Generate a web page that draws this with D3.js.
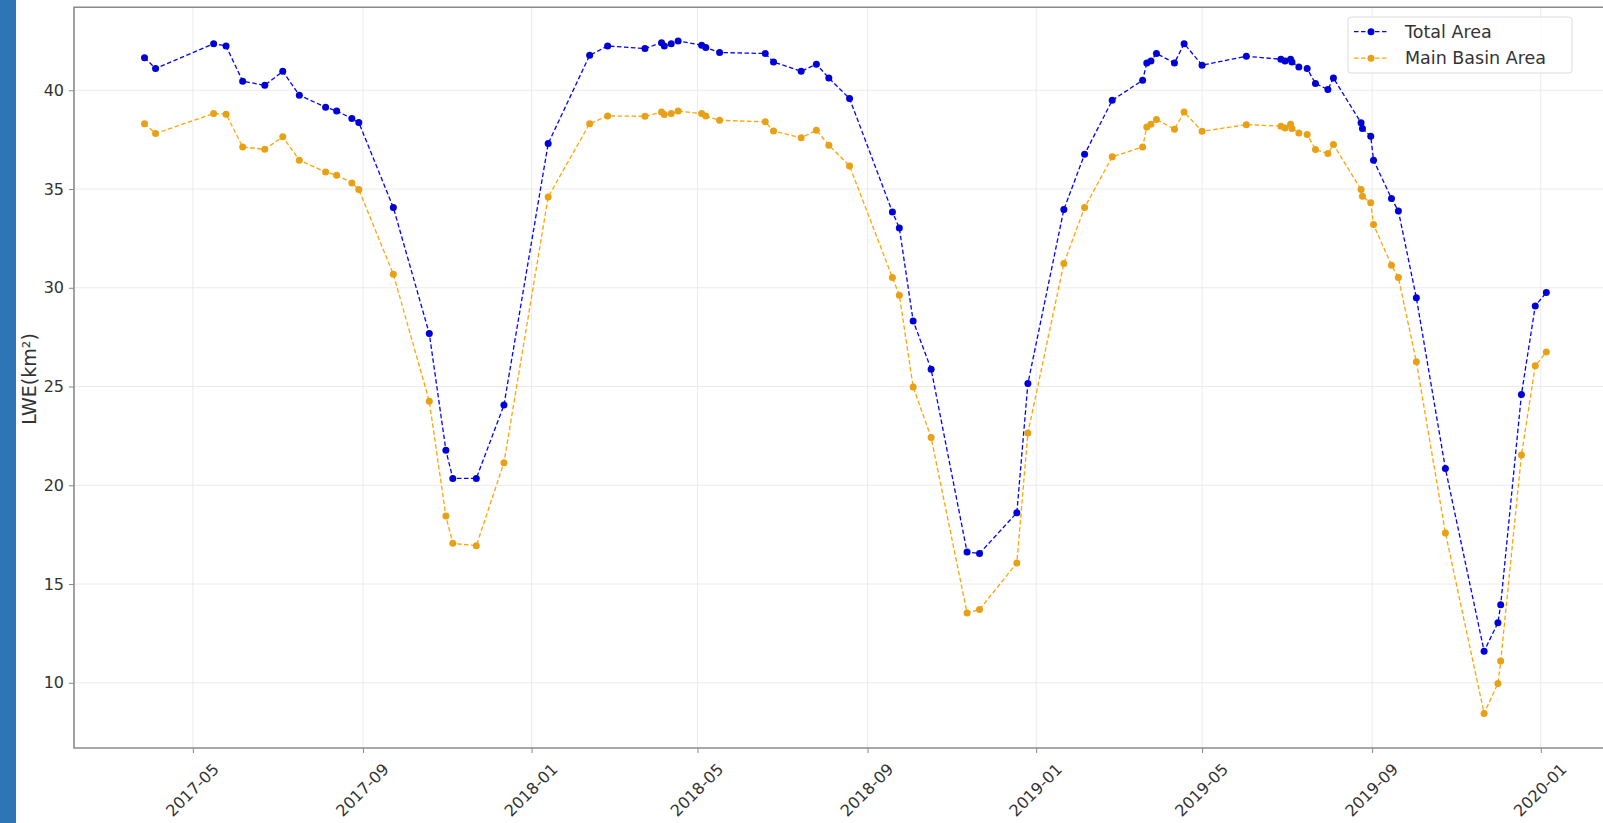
<!DOCTYPE html>
<html>
<head>
<meta charset="utf-8">
<script src="https://cdn.jsdelivr.net/npm/d3@7"></script>
<style>
  body { margin: 0; background: #fff; }
  text { font-family: "DejaVu Sans", sans-serif; fill: #333; }
</style>
</head>
<body>
<div id="root"></div>
<script>
// observation dates
var dates = [
  "2017-03-27", "2017-04-04", "2017-05-16", "2017-05-25", "2017-06-06", "2017-06-22", "2017-07-05",
  "2017-07-17", "2017-08-05", "2017-08-13", "2017-08-24", "2017-08-29", "2017-09-23", "2017-10-19",
  "2017-10-31", "2017-11-05", "2017-11-22", "2017-12-12", "2018-01-13",
  "2018-02-12", "2018-02-25", "2018-03-24", "2018-04-05", "2018-04-07", "2018-04-12", "2018-04-17",
  "2018-05-04", "2018-05-07", "2018-05-17", "2018-06-19", "2018-06-25", "2018-07-15", "2018-07-26",
  "2018-08-04", "2018-08-19", "2018-09-19", "2018-09-24", "2018-10-04", "2018-10-17", "2018-11-12",
  "2018-11-21", "2018-12-18", "2018-12-26", "2019-01-21", "2019-02-05",
  "2019-02-25", "2019-03-19", "2019-03-22", "2019-03-25", "2019-03-29", "2019-04-11", "2019-04-18",
  "2019-05-01", "2019-06-02", "2019-06-27", "2019-06-30", "2019-07-04", "2019-07-05", "2019-07-10",
  "2019-07-16", "2019-07-22", "2019-07-31", "2019-08-04", "2019-08-24", "2019-08-25", "2019-08-31",
  "2019-09-02", "2019-09-15", "2019-09-20", "2019-10-03", "2019-10-24", "2019-11-21", "2019-12-01",
  "2019-12-03", "2019-12-18", "2019-12-28", "2020-01-05"
];

var totalArea = [
  41.65, 41.10, 42.36, 42.24, 40.46, 40.25, 40.96, 39.75, 39.14, 38.95, 38.57, 38.37, 34.06, 27.68,
  21.78, 20.35, 20.35, 24.06, 37.30,
  41.77, 42.24, 42.11, 42.41, 42.24, 42.36, 42.50, 42.28, 42.16, 41.91, 41.86, 41.43, 40.96, 41.32,
  40.62, 39.58, 33.84, 33.03, 28.32, 25.88, 16.62, 16.55, 18.61, 25.15, 33.96, 36.76,
  39.49, 40.51, 41.38, 41.48, 41.86, 41.38, 42.36, 41.27, 41.72, 41.57, 41.48, 41.57, 41.43, 41.18,
  41.10, 40.34, 40.04, 40.62, 38.35, 38.06, 37.67, 36.46, 34.52, 33.89, 29.49, 20.85, 11.60, 13.04,
  13.95, 24.60, 29.08, 29.76
];

var mainBasinArea = [
  38.31, 37.81, 38.82, 38.79, 37.13, 37.01, 37.64, 36.46, 35.86, 35.70, 35.31, 34.97, 30.69, 24.26,
  18.44, 17.06, 16.94, 21.14, 34.60,
  38.31, 38.70, 38.68, 38.90, 38.77, 38.82, 38.95, 38.82, 38.70, 38.48, 38.40, 37.94, 37.59, 37.98,
  37.22, 36.17, 30.52, 29.62, 24.98, 22.42, 13.54, 13.71, 16.07, 22.65, 31.23, 34.06,
  36.63, 37.13, 38.14, 38.28, 38.52, 38.03, 38.90, 37.92, 38.26, 38.18, 38.09, 38.28, 38.06, 37.84,
  37.76, 37.00, 36.80, 37.25, 34.97, 34.63, 34.30, 33.20, 31.14, 30.52, 26.25, 17.59, 8.45, 9.97,
  11.10, 21.53, 26.05, 26.75
];

var seriesNames = ["Total Area", "Main Basin Area"];
var seriesColors = ["#0000ff", "#ffa500"];
var markerColors = ["#0000d8", "#e8a015"];

var xTicks = ["2017-05", "2017-09", "2018-01", "2018-05", "2018-09", "2019-01", "2019-05", "2019-09", "2020-01"];
var yTicks = [10, 15, 20, 25, 30, 35, 40];

var W = 1603, H = 823;
var plotLeft = 74, plotTop = 7.3, plotBottom = 748, plotRight = 1603;

var parseDay = d3.utcParse("%Y-%m-%d");
var parseMonth = d3.utcParse("%Y-%m");
var fmtMonth = d3.utcFormat("%Y-%m");

var svg = d3.select("#root").append("svg")
  .attr("width", W)
  .attr("height", H);

// blue strip on the left edge
svg.append("rect")
  .attr("x", 0).attr("y", 0)
  .attr("width", 16).attr("height", H)
  .attr("fill", "#2e75b6");

var x = d3.scaleUtc()
  .domain([parseDay("2017-02-04"), parseDay("2020-02-15")])
  .range([plotLeft, plotRight]);

var y = d3.scaleLinear()
  .domain([6.7, 44.2])
  .range([plotBottom, plotTop]);

var tickDates = xTicks.map(parseMonth);

// grid
var grid = svg.append("g").attr("stroke", "#ebebeb").attr("stroke-width", 1);
grid.selectAll(".gx").data(tickDates).enter().append("line")
  .attr("x1", function (d) { return x(d); }).attr("x2", function (d) { return x(d); })
  .attr("y1", plotTop).attr("y2", plotBottom);
grid.selectAll(".gy").data(yTicks).enter().append("line")
  .attr("x1", plotLeft).attr("x2", plotRight)
  .attr("y1", function (d) { return y(d); }).attr("y2", function (d) { return y(d); });

// axes
var xAxis = d3.axisBottom(x).tickValues(tickDates).tickFormat(fmtMonth).tickSize(5).tickSizeOuter(0);
var gx = svg.append("g")
  .attr("transform", "translate(0," + plotBottom + ")")
  .call(xAxis);
gx.select(".domain").remove();
gx.selectAll("line").attr("stroke", "#888");
gx.selectAll("text")
  .attr("y", 0).attr("dy", null)
  .attr("font-size", 16)
  .attr("fill", "#333")
  .attr("text-anchor", "middle")
  .attr("dominant-baseline", "central")
  .attr("transform", "translate(-1,42) rotate(-45)");

var yAxis = d3.axisLeft(y).tickValues(yTicks).tickSize(5).tickPadding(5).tickSizeOuter(0);
var gy = svg.append("g")
  .attr("transform", "translate(" + plotLeft + ",0)")
  .call(yAxis);
gy.select(".domain").remove();
gy.selectAll("line").attr("stroke", "#888");
gy.selectAll("text").attr("font-size", 16).attr("fill", "#333");

// frame (right side is cut off by the picture edge)
svg.append("path")
  .attr("d", "M" + plotRight + "," + plotTop + "H" + plotLeft + "V" + plotBottom + "H" + plotRight)
  .attr("fill", "none")
  .attr("stroke", "#8a8a8a")
  .attr("stroke-width", 1.6);

svg.append("text")
  .attr("transform", "translate(29,379) rotate(-90)")
  .attr("text-anchor", "middle")
  .attr("dominant-baseline", "central")
  .attr("font-size", 19)
  .text("LWE(km²)");

// series
var series = [totalArea, mainBasinArea].map(function (vals, i) {
  return {
    name: seriesNames[i],
    color: seriesColors[i],
    marker: markerColors[i],
    points: vals.map(function (v, j) { return { date: parseDay(dates[j]), value: v }; })
  };
});

var line = d3.line()
  .x(function (d) { return x(d.date); })
  .y(function (d) { return y(d.value); });

series.forEach(function (s) {
  var g = svg.append("g");
  g.append("path")
    .datum(s.points)
    .attr("d", line)
    .attr("fill", "none")
    .attr("stroke", s.color)
    .attr("stroke-width", 1.3)
    .attr("stroke-dasharray", "4.5,2.5");
  g.selectAll("circle").data(s.points).enter().append("circle")
    .attr("cx", function (d) { return x(d.date); })
    .attr("cy", function (d) { return y(d.value); })
    .attr("r", 3.5)
    .attr("fill", s.marker);
});

// legend
var legend = svg.append("g");
legend.append("rect")
  .attr("x", 1348).attr("y", 17)
  .attr("width", 224).attr("height", 56)
  .attr("rx", 3)
  .attr("fill", "#fff")
  .attr("fill-opacity", 0.8)
  .attr("stroke", "#dcdcdc");

var items = legend.selectAll(".item").data(series).enter().append("g")
  .attr("transform", function (d, i) { return "translate(1354," + (31.7 + i * 26.5) + ")"; });
items.append("line")
  .attr("x1", 0).attr("x2", 34)
  .attr("stroke", function (d) { return d.color; })
  .attr("stroke-width", 1.3)
  .attr("stroke-dasharray", "4.5,2.5");
items.append("circle")
  .attr("cx", 17).attr("r", 3.5)
  .attr("fill", function (d) { return d.marker; });
items.append("text")
  .attr("x", 51)
  .attr("dominant-baseline", "central")
  .attr("font-size", 17.5)
  .text(function (d) { return d.name; });
</script>
</body>
</html>
